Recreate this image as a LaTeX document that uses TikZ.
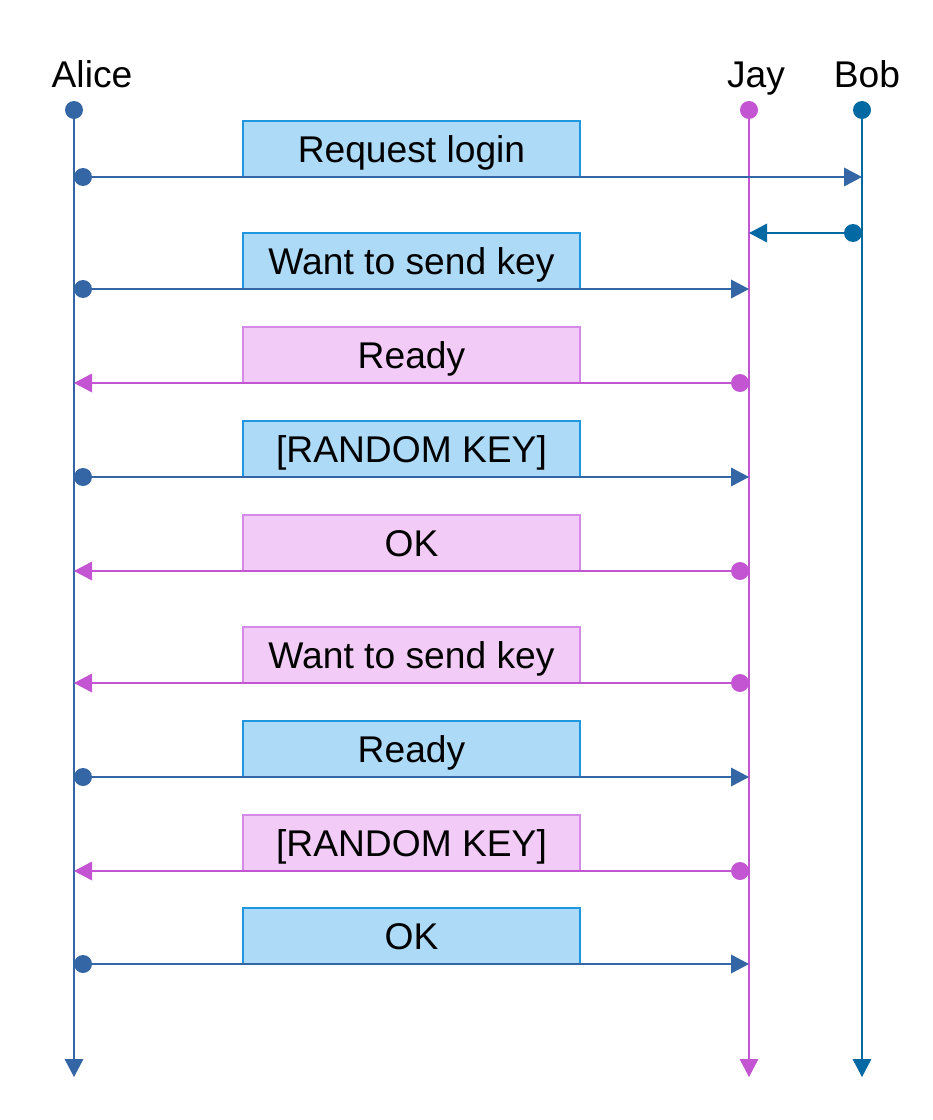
\documentclass[tikz,border=0pt]{standalone}
\usepackage{fontspec}
\setmainfont{Liberation Sans}
\usetikzlibrary{arrows.meta}
\definecolor{cA}{HTML}{3465A4}
\definecolor{cJ}{HTML}{C355D2}
\definecolor{cB}{HTML}{0369A3}
\definecolor{bfill}{HTML}{ADDBF7}
\definecolor{bdraw}{HTML}{2196E0}
\definecolor{pfill}{HTML}{F2CCF7}
\definecolor{pdraw}{HTML}{D68AE8}
\tikzset{
  bigfont/.style={font=\fontsize{27.9}{33}\selectfont},
  dotA/.style={circle,fill=cA,inner sep=0pt,minimum size=13.5pt},
  dotJ/.style={circle,fill=cJ,inner sep=0pt,minimum size=13.5pt},
  dotB/.style={circle,fill=cB,inner sep=0pt,minimum size=13.5pt},
  tipT/.style={-{Triangle[length=13.5pt,width=14pt]}},
  lifeA/.style={draw=cA,line width=0.9pt,tipT},
  lifeJ/.style={draw=cJ,line width=0.9pt,tipT},
  lifeB/.style={draw=cB,line width=0.9pt,tipT},
  msgA/.style={draw=cA,line width=1pt,tipT},
  msgJ/.style={draw=cJ,line width=1pt,tipT},
  msgB/.style={draw=cB,line width=1pt,tipT},
  boxbase/.style={line width=0.8pt,minimum width=252.75pt,minimum height=42pt,inner sep=0pt,text height=24.5pt,text depth=5pt,bigfont},
  bluebox/.style={boxbase,draw=bdraw,fill=bfill},
  pinkbox/.style={boxbase,draw=pdraw,fill=pfill},
  actor/.style={anchor=base,bigfont,inner sep=0pt}
}
\begin{document}
\begin{tikzpicture}[x=0.75pt,y=-0.75pt]
\useasboundingbox (0,0) rectangle (932,1120);
% actors
\node[actor] (tA) at (92,88) {Alice};
\node[actor] (tJ) at (756,88) {Jay};
\node[actor] (tB) at (867,88) {Bob};
% lifelines
\node[dotA] (a0) at (74,110) {};
\node[dotJ] (j0) at (749,110) {};
\node[dotB] (b0) at (862,110) {};
\coordinate (a1) at (74,1077);
\coordinate (j1) at (749,1077);
\coordinate (b1) at (862,1077);
\draw[lifeA] (a0.center) -- (a1);
\draw[lifeJ] (j0.center) -- (j1);
\draw[lifeB] (b0.center) -- (b1);
% boxes
\node[bluebox] (m1) at (411.5,149) {Request login};
\node[bluebox] (m3) at (411.5,261) {Want to send key};
\node[pinkbox] (m4) at (411.5,355) {Ready};
\node[bluebox] (m5) at (411.5,449) {[RANDOM KEY]};
\node[pinkbox] (m6) at (411.5,543) {OK};
\node[pinkbox] (m7) at (411.5,655) {Want to send key};
\node[bluebox] (m8) at (411.5,749) {Ready};
\node[pinkbox] (m9) at (411.5,843) {[RANDOM KEY]};
\node[bluebox] (m10) at (411.5,936) {OK};
% message 1: Alice -> Bob
\coordinate (e1) at (862,177);
\node[dotA] (d1) at (83,177) {};
\draw[msgA] (d1.center) -- (e1);
% message 2: Bob -> Jay
\coordinate (e2) at (749,233);
\node[dotB] (d2) at (853,233) {};
\draw[msgB] (d2.center) -- (e2);
% message 3: Alice -> Jay
\coordinate (e3) at (749,289);
\node[dotA] (d3) at (83,289) {};
\draw[msgA] (d3.center) -- (e3);
% message 4: Jay -> Alice
\coordinate (e4) at (74,383);
\node[dotJ] (d4) at (740,383) {};
\draw[msgJ] (d4.center) -- (e4);
% message 5
\coordinate (e5) at (749,477);
\node[dotA] (d5) at (83,477) {};
\draw[msgA] (d5.center) -- (e5);
% message 6
\coordinate (e6) at (74,571);
\node[dotJ] (d6) at (740,571) {};
\draw[msgJ] (d6.center) -- (e6);
% message 7
\coordinate (e7) at (74,683);
\node[dotJ] (d7) at (740,683) {};
\draw[msgJ] (d7.center) -- (e7);
% message 8
\coordinate (e8) at (749,777);
\node[dotA] (d8) at (83,777) {};
\draw[msgA] (d8.center) -- (e8);
% message 9
\coordinate (e9) at (74,871);
\node[dotJ] (d9) at (740,871) {};
\draw[msgJ] (d9.center) -- (e9);
% message 10
\coordinate (e10) at (749,964);
\node[dotA] (d10) at (83,964) {};
\draw[msgA] (d10.center) -- (e10);
\end{tikzpicture}
\end{document}
